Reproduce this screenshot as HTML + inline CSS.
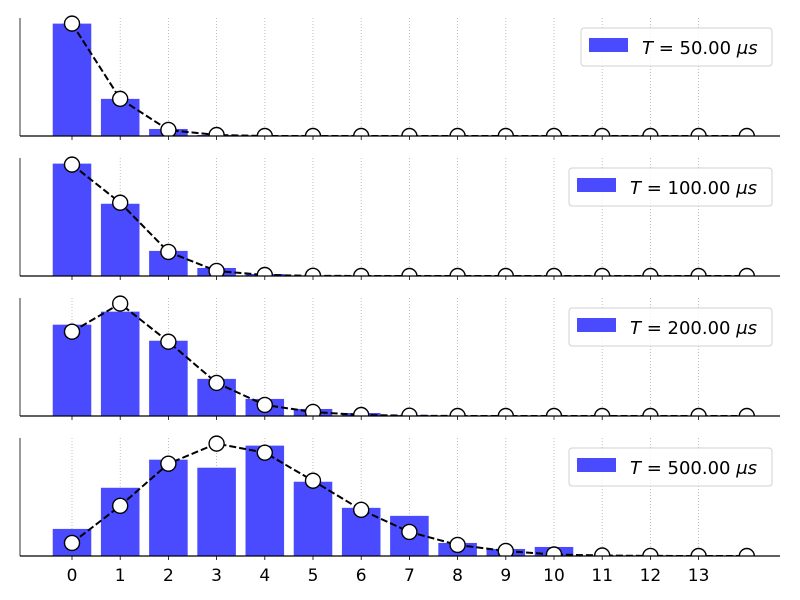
<!DOCTYPE html>
<html><head><meta charset="utf-8"><style>
body{margin:0;background:#fff;}
svg{display:block;font-family:"DejaVu Sans","Liberation Sans",sans-serif;}
</style></head><body>
<svg id="chart" width="800" height="600" viewBox="0 0 800 600" xmlns="http://www.w3.org/2000/svg"></svg>
<script>
const categories = [0,1,2,3,4,5,6,7,8,9,10,11,12,13,14];
const tickLabels = ["0","1","2","3","4","5","6","7","8","9","10","11","12","13"];
const legendLabels = ["50.00","100.00","200.00","500.00"];
const bars50  = [112,37,7,1,0,0,0,0,0,0,0,0,0,0,0];
const bars100 = [112,72,25,8,2,0.5,0,0,0,0,0,0,0,0,0];
const bars200 = [91,104,75,37,17,7,3,1,0,0,0,0,0,0,0];
const bars500 = [27,68,96,88,110,74,48,40,13,7,9,0,0,0,0];
const fit50  = [112,37,6,1,0,0,0,0,0,0,0,0,0,0,0];
const fit100 = [111,73,24,5,1,0.2,0,0,0,0,0,0,0,0,0];
const fit200 = [84,112,74,33,11,4,1,0.3,0,0,0,0,0,0,0];
const fit500 = [13,50,92,112,103,75,46,24,11,5,1.5,0.5,0.1,0,0];
const barSets = [bars50,bars100,bars200,bars500];
const fitSets = [fit50,fit100,fit200,fit500];

const NS="http://www.w3.org/2000/svg";
const svg=document.getElementById('chart');
function mk(tag,attrs,parent){const e=document.createElementNS(NS,tag);for(const k in attrs)e.setAttribute(k,attrs[k]);(parent||svg).appendChild(e);return e;}
const xScale=d=>72+48.2*d;
const panelTops=[18,158,298,438], panelH=118, axL=20, axR=780;
const legendX=[581,569,569,569];
const defs=mk('defs',{});

panelTops.forEach((top,p)=>{
  const base=top+panelH;
  const bars=barSets[p], fit=fitSets[p];
  const ymax=Math.max(...bars,...fit)*1.05;
  const yScale=v=>base-v/ymax*panelH;
  const cp=mk('clipPath',{id:'clip'+p},defs);
  mk('rect',{x:axL,y:top-12,width:axR-axL,height:panelH+12},cp);
  const g=mk('g',{});
  
  
  tickLabels.forEach((t,i)=>{
    const gl=mk('line',{x1:xScale(i),x2:xScale(i),y1:top,y2:base,stroke:'#b0b0b0','stroke-width':0.8,'stroke-dasharray':'1,2'},g);
    
    
  });
  const dg=mk('g',{'clip-path':'url(#clip'+p+')'},g);
  
  
  categories.forEach((c,i)=>{
    const h=base-yScale(bars[i]);
    if(h<=0)return;
    const r=mk('rect',{x:xScale(c)-0.4*48.2,y:yScale(bars[i]),width:0.8*48.2,height:h,fill:'#4a4aff'},dg);
    
    
  });
  const pts=categories.map((c,i)=>xScale(c)+','+yScale(fit[i])).join(' ');
  const pl=mk('polyline',{points:pts,fill:'none',stroke:'#000','stroke-width':2,'stroke-dasharray':'7,3'},dg);
  
  
  categories.forEach((c,i)=>{
    const m=mk('circle',{cx:xScale(c),cy:yScale(fit[i]),r:7.5,fill:'#fff',stroke:'#000','stroke-width':1.4},dg);
    
    
  });
  const ls=mk('line',{x1:axL,x2:axL,y1:top,y2:base,stroke:'#000','stroke-width':0.8},g);
  
  
  const bs=mk('line',{x1:axL,x2:axR,y1:base,y2:base,stroke:'#000','stroke-width':1.2},g);
  
  
  tickLabels.forEach((t,i)=>{
    const tk=mk('line',{x1:xScale(i),x2:xScale(i),y1:base,y2:base+4,stroke:'#000','stroke-width':0.8},g);
    
    
    if(p===3){
      const tl=mk('text',{x:xScale(i),y:base+25,'text-anchor':'middle','font-size':17,fill:'#000'},g);
      tl.textContent=t;
      
      
    }
  });
  const lx=legendX[p], ly=top+10;
  const lg=mk('g',{},g);
  
  
  mk('rect',{x:lx,y:ly,width:772-lx,height:38,rx:3,fill:'#fff','fill-opacity':0.8,stroke:'#d0d0d0','stroke-width':1},lg);
  mk('rect',{x:lx+8,y:ly+10,width:39,height:14,fill:'#4a4aff'},lg);
  const tx=mk('text',{x:lx+61,y:ly+26,'font-size':18,fill:'#000'},lg);
  tx.innerHTML='<tspan font-style="italic">T</tspan> = '+legendLabels[p]+' <tspan font-style="italic">μs</tspan>';
});
</script>
</body></html>
